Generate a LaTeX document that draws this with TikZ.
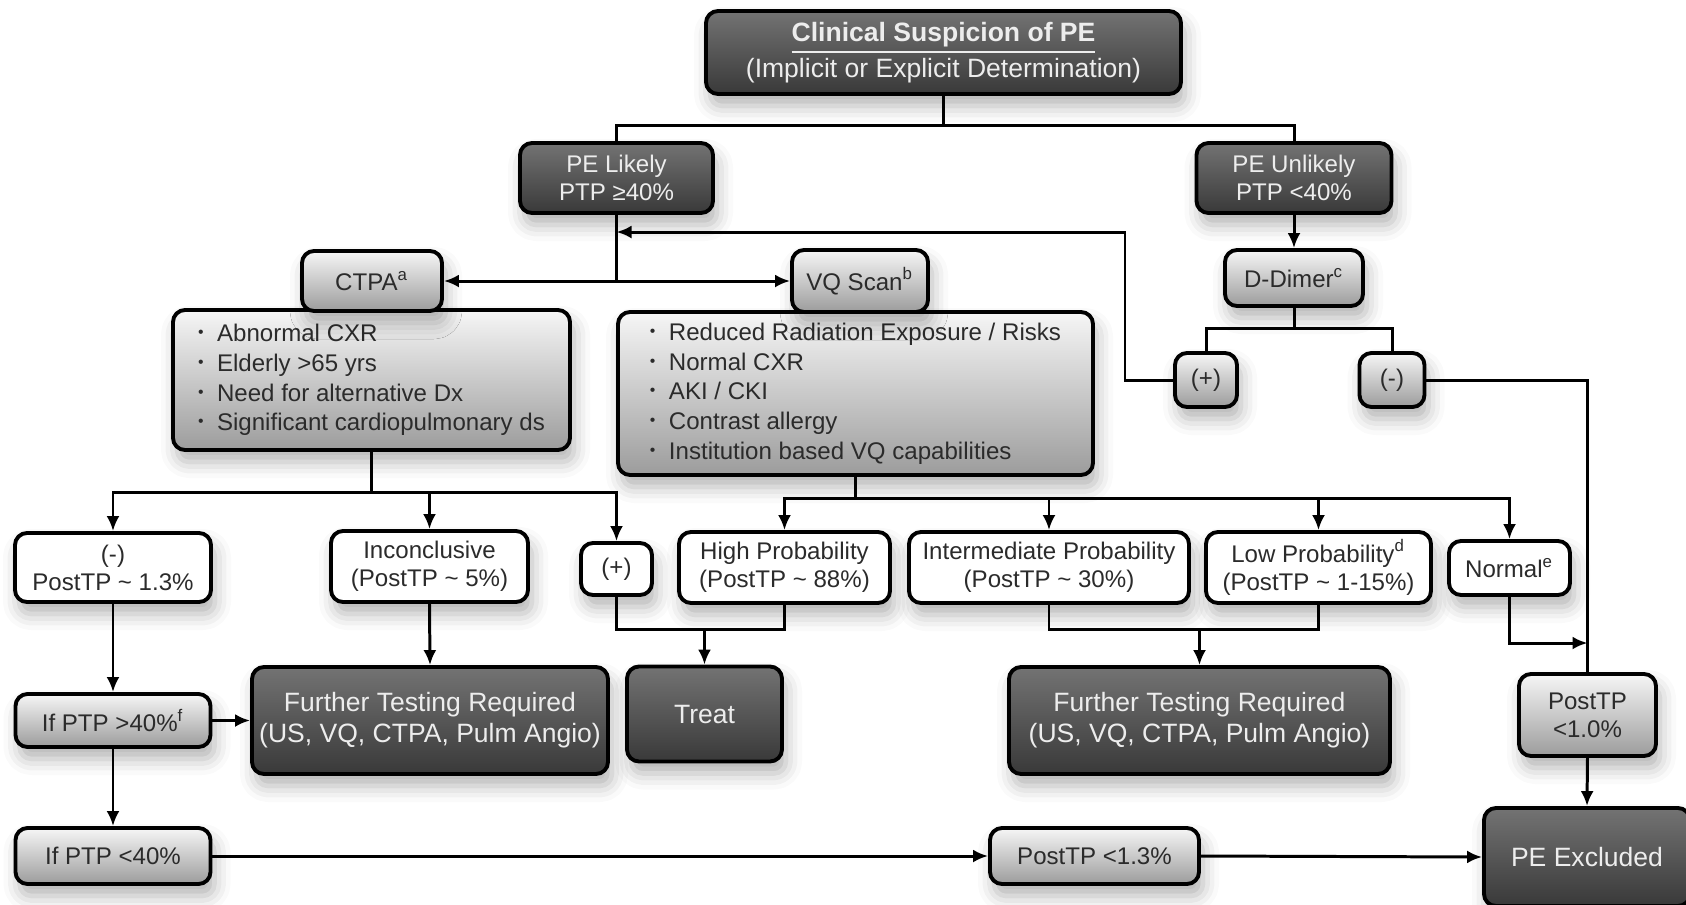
\documentclass[tikz,border=0pt]{standalone}
\usepackage{fontspec}
\setmainfont{Liberation Sans}
\usetikzlibrary{arrows.meta}
\usetikzlibrary{shadows.blur}
\definecolor{darktop}{HTML}{737373}
\definecolor{darkbot}{HTML}{393939}
\definecolor{lighttop}{HTML}{F6F6F6}
\definecolor{lightbot}{HTML}{9C9C9C}
\definecolor{textgray}{HTML}{2B2B2B}
\newcommand{\lbul}{\makebox[1.9mm][l]{\raisebox{0.3ex}{\fontsize{4.5}{4.5}\selectfont\textbullet}}}
\tikzset{
  box/.style = {draw, rounded corners=1.2mm, line width=1.1pt, inner sep=0, align=center,
    blur shadow={shadow xshift=0.4mm, shadow yshift=-1.2mm, shadow blur radius=1.6mm, shadow opacity=30}},
  darkbox/.style = {box, top color=darktop, bottom color=darkbot, text=white!93!black},
  lightbox/.style = {box, top color=lighttop, bottom color=lightbot, text=textgray},
  whitebox/.style = {box, fill=white, text=textgray},
  listbox/.style = {lightbox, align=left, font=\fontsize{6.85}{8.45}\selectfont},
  boxsize/.style 2 args = {minimum width=#1mm, minimum height=#2mm},
  smalltxt/.style = {font=\fontsize{6.85}{8}\selectfont},
  bigtxt/.style = {font=\fontsize{7.55}{8.8}\selectfont},
  arr/.style = {-{Latex[length=1.5mm, width=1.3mm]}},
}

\begin{document}
\begin{tikzpicture}[x=0.1mm, y=-0.1mm, line width=0.85pt]
\useasboundingbox (0,0) rectangle (1686,905);

% top of the tree
\node [darkbox, bigtxt, boxsize={47.5}{8.3}] (top) at (943.5,52.5)
  {\textbf{\underline{Clinical Suspicion of PE}}\\(Implicit or Explicit Determination)};
\node [darkbox, smalltxt, boxsize={19.3}{7.0}] (likely) at (616.5,178) {PE Likely\\PTP ≥40\%};
\node [darkbox, smalltxt, boxsize={19.5}{7.0}] (unlikely) at (1294,178) {PE Unlikely\\PTP <40\%};
\node [lightbox, smalltxt, boxsize={13.8}{5.6}] (ddimer) at (1294,278) {D-Dimer\textsuperscript{c}};
\node [lightbox, smalltxt, boxsize={6.2}{5.4}] (dpos) at (1206,380) {(+)};
\node [lightbox, smalltxt, boxsize={6.5}{5.4}] (dneg) at (1392,380) {(-)};

% imaging choice
\node [listbox, boxsize={39.7}{14.0}] (ctpalist) at (371.5,380)
  {\lbul Abnormal CXR\\\lbul Elderly >65 yrs\\\lbul Need for alternative Dx\\\lbul Significant cardiopulmonary ds};
\node [listbox, boxsize={47.5}{16.3}] (vqlist) at (855.5,393.5)
  {\lbul Reduced Radiation Exposure / Risks\\\lbul Normal CXR\\\lbul AKI / CKI\\\lbul Contrast allergy\\\lbul Institution based VQ capabilities};
\node [lightbox, smalltxt, boxsize={14.0}{6.0}] (ctpa) at (372,281) {CTPA\textsuperscript{a}};
\node [lightbox, smalltxt, boxsize={13.6}{6.2}] (vq) at (860,281) {VQ Scan\textsuperscript{b}};

% results
\node [whitebox, smalltxt, boxsize={19.6}{6.9}] (ctneg) at (113,567.5) {(-)\\PostTP \textasciitilde{} 1.3\%};
\node [whitebox, smalltxt, boxsize={19.7}{7.1}] (incon) at (429.5,566.5) {Inconclusive\\(PostTP \textasciitilde{} 5\%)};
\node [whitebox, smalltxt, boxsize={7.1}{5.2}] (ctpos) at (616.5,569) {(+)};
\node [whitebox, smalltxt, boxsize={21.1}{7.1}] (high) at (784.5,567.5) {High Probability\\(PostTP \textasciitilde{} 88\%)};
\node [whitebox, smalltxt, boxsize={28.0}{7.1}] (inter) at (1049,567.5) {Intermediate Probability\\(PostTP \textasciitilde{} 30\%)};
\node [whitebox, smalltxt, boxsize={22.5}{7.1}] (low) at (1318.5,567.5) {Low Probability\textsuperscript{d}\\(PostTP \textasciitilde{} 1-15\%)};
\node [whitebox, smalltxt, boxsize={12.1}{5.4}] (normal) at (1509.5,568) {Normal\textsuperscript{e}};

% outcomes
\node [lightbox, smalltxt, boxsize={19.5}{5.3}] (ifhigh) at (113,720.5) {If PTP >40\%\textsuperscript{f}};
\node [darkbox, bigtxt, boxsize={35.6}{10.7}] (further1) at (430,720.5) {Further Testing Required\\(US, VQ, CTPA, Pulm Angio)};
\node [darkbox, bigtxt, boxsize={15.5}{9.5}] (treat) at (704.5,714) {Treat};
\node [darkbox, bigtxt, boxsize={38.1}{10.7}] (further2) at (1199.5,720.5) {Further Testing Required\\(US, VQ, CTPA, Pulm Angio)};
\node [lightbox, smalltxt, boxsize={13.7}{8.2}] (post10) at (1587.5,715) {PostTP\\<1.0\%};
\node [lightbox, smalltxt, boxsize={19.5}{5.6}] (iflow) at (113,856) {If PTP <40\%};
\node [lightbox, smalltxt, boxsize={20.9}{5.6}] (post13) at (1094.5,856) {PostTP <1.3\%};
\node [darkbox, bigtxt, boxsize={20.6}{9.8}] (excl) at (1587,857) {PE Excluded};

% split points
\coordinate (tsplit) at (943.5,125);
\coordinate (ltee) at (616.5,281);
\coordinate (dsplit) at (1294,328);
\coordinate (bend) at (1125,232);
\coordinate (back) at (616.5,232);
\coordinate (csplit) at (371.5,492);
\coordinate (vsplit) at (855.5,498);
\coordinate (tjoin) at (704.5,629);
\coordinate (fjoin) at (1199.5,629);
\coordinate (nend) at (1587.5,643);

\draw (top.south) -- (tsplit);
\draw (likely.north) |- (tsplit) -| (unlikely.north);
\draw (likely.south) -- (ltee);
\draw [arr] (ltee) -- (ctpa.east);
\draw [arr] (ltee) -- (vq.west);
\draw [arr] (unlikely.south) -- (ddimer.north);
\draw (ddimer.south) -- (dsplit);
\draw (dpos.north) |- (dsplit) -| (dneg.north);
\draw [arr] (dpos.west) -| (bend) -- (back);
\draw (dneg.east) -| (post10.north);

\draw (ctpalist.south) -- (csplit);
\draw [arr] (csplit) -| (ctneg.north);
\draw [arr] (csplit) -| (incon.north);
\draw [arr] (csplit) -| (ctpos.north);
\draw (vqlist.south) -- (vsplit);
\draw [arr] (vsplit) -| (high.north);
\draw [arr] (vsplit) -| (inter.north);
\draw [arr] (vsplit) -| (low.north);
\draw [arr] (vsplit) -| (normal.north);

\draw [arr] (ctneg.south) -- (ifhigh.north);
\draw [arr] (incon.south) -- (further1.north);
\draw (ctpos.south) |- (tjoin) -| (high.south);
\draw [arr] (tjoin) -- (treat.north);
\draw (inter.south) |- (fjoin) -| (low.south);
\draw [arr] (fjoin) -- (further2.north);
\draw [arr] (normal.south) |- (nend);
\draw [arr] (post10.south) -- (excl.north);

\draw [arr] (ifhigh.east) -- (further1.west);
\draw [arr] (ifhigh.south) -- (iflow.north);
\draw [arr] (iflow.east) -- (post13.west);
\draw [arr] (post13.east) -- (excl.west);
\end{tikzpicture}
\end{document}
